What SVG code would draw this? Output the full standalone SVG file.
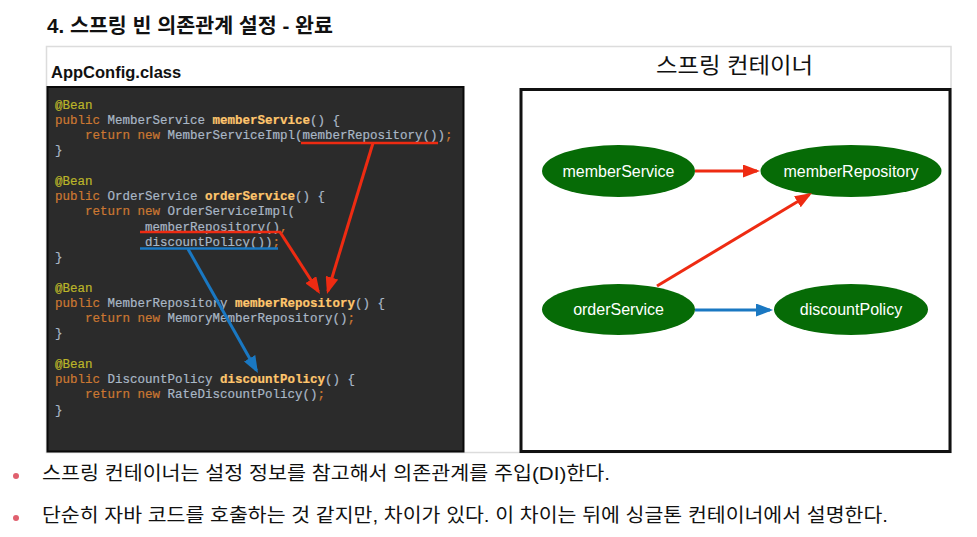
<svg xmlns="http://www.w3.org/2000/svg" width="977" height="537" viewBox="0 0 977 537">
<style>
.ko{font-family:"Liberation Sans","Noto Sans CJK KR",sans-serif;fill:#111}
.code{font-family:"Liberation Mono","DejaVu Sans Mono",monospace;font-size:12.5px;fill:#a9b7c6;stroke:#a9b7c6;stroke-width:0.2}
.an{fill:#bbb529;stroke:#bbb529}
.kw{fill:#cc7832;stroke:#cc7832}
.fn{fill:#ffc66d;stroke:#ffc66d;font-weight:bold}
.node{fill:#066b06}
.lbl{font-family:"Liberation Sans",Arial,sans-serif;font-size:16px;fill:#fff;text-anchor:middle}
.red{stroke:#ee2b12;stroke-width:3;fill:none}
.blue{stroke:#1a78c2;stroke-width:3;fill:none}
</style>
<defs>
<marker id="ar" markerUnits="userSpaceOnUse" markerWidth="17" markerHeight="13" refX="14" refY="6.5" orient="auto"><path d="M0,0 L17,6.5 L0,13 z" fill="#ee2b12"/></marker>
<marker id="ab" markerUnits="userSpaceOnUse" markerWidth="17" markerHeight="13" refX="14" refY="6.5" orient="auto"><path d="M0,0 L17,6.5 L0,13 z" fill="#1a78c2"/></marker>
</defs>
<rect width="977" height="537" fill="#fff"/>
<text class="ko" x="47" y="33" font-size="20.5" font-weight="bold" textLength="286" lengthAdjust="spacingAndGlyphs">4. 스프링 빈 의존관계 설정 - 완료</text>
<rect x="46.5" y="46.5" width="904.5" height="406" fill="none" stroke="#dcdcdc" stroke-width="1.5"/>
<text x="51" y="78" font-family="Liberation Sans,Arial,sans-serif" font-size="16.5" font-weight="bold" fill="#111">AppConfig.class</text>
<g id="code">
<rect x="47.5" y="87" width="416" height="364.5" fill="#2b2b2b" stroke="#0a0a0a" stroke-width="2"/>
<text class="code" xml:space="preserve"><tspan x="55" y="108.5" class="an">@Bean</tspan><tspan x="55" y="123.7"><tspan class="kw">public</tspan> MemberService <tspan class="fn">memberService</tspan>() {</tspan><tspan x="55" y="139"><tspan class="kw">    return new</tspan> MemberServiceImpl(memberRepository())<tspan class="kw">;</tspan></tspan><tspan x="55" y="154.2">}</tspan><tspan x="55" y="184.7" class="an">@Bean</tspan><tspan x="55" y="200"><tspan class="kw">public</tspan> OrderService <tspan class="fn">orderService</tspan>() {</tspan><tspan x="55" y="215.2"><tspan class="kw">    return new</tspan> OrderServiceImpl(</tspan><tspan x="55" y="230.5">            memberRepository()<tspan class="kw">,</tspan></tspan><tspan x="55" y="245.7">            discountPolicy())<tspan class="kw">;</tspan></tspan><tspan x="55" y="261">}</tspan><tspan x="55" y="291.5" class="an">@Bean</tspan><tspan x="55" y="306.7"><tspan class="kw">public</tspan> MemberRepository <tspan class="fn">memberRepository</tspan>() {</tspan><tspan x="55" y="322"><tspan class="kw">    return new</tspan> MemoryMemberRepository()<tspan class="kw">;</tspan></tspan><tspan x="55" y="337.2">}</tspan><tspan x="55" y="367.7" class="an">@Bean</tspan><tspan x="55" y="383"><tspan class="kw">public</tspan> DiscountPolicy <tspan class="fn">discountPolicy</tspan>() {</tspan><tspan x="55" y="398.2"><tspan class="kw">    return new</tspan> RateDiscountPolicy()<tspan class="kw">;</tspan></tspan><tspan x="55" y="413.5">}</tspan></text>
</g>
<g id="container">
<rect x="521" y="89.5" width="429" height="362" fill="#fff" stroke="#111" stroke-width="3"/>
<text class="ko" x="656" y="73" font-size="22" textLength="157" lengthAdjust="spacingAndGlyphs">스프링 컨테이너</text>
</g>
<g id="memberService"><ellipse class="node" cx="618.5" cy="171" rx="76.5" ry="26"/><text class="lbl" x="618.5" y="176.5">memberService</text></g>
<g id="memberRepository"><ellipse class="node" cx="851" cy="171" rx="90.5" ry="26"/><text class="lbl" x="851" y="176.5">memberRepository</text></g>
<g id="orderService"><ellipse class="node" cx="618.5" cy="309.5" rx="76.5" ry="25.5"/><text class="lbl" x="618.5" y="315">orderService</text></g>
<g id="discountPolicy"><ellipse class="node" cx="851" cy="309.5" rx="77" ry="25.5"/><text class="lbl" x="851" y="315">discountPolicy</text></g>
<g id="connectors">
<line x1="301" y1="143" x2="438" y2="143" stroke="#ee2b12" stroke-width="2.5"/>
<line x1="140" y1="232" x2="281" y2="232" stroke="#ee2b12" stroke-width="2.5"/>
<line x1="140" y1="248.5" x2="278" y2="248.5" stroke="#1a78c2" stroke-width="2.5"/>
<line class="red" x1="373" y1="143" x2="327.9" y2="291.1" marker-end="url(#ar)"/>
<line class="red" x1="280" y1="232" x2="318.4" y2="291.5" marker-end="url(#ar)"/>
<line class="blue" x1="188" y1="249" x2="256.5" y2="370.4" marker-end="url(#ab)"/>
<line class="red" x1="695" y1="171" x2="757" y2="171" marker-end="url(#ar)"/>
<line class="red" x1="657" y1="286" x2="809.4" y2="194.5" marker-end="url(#ar)"/>
<line class="blue" x1="695" y1="310" x2="770" y2="310" marker-end="url(#ab)"/>
</g>
<g id="notes">
<circle cx="16" cy="476" r="3" fill="#e0606e"/>
<circle cx="16" cy="518" r="3" fill="#e0606e"/>
<text class="ko" x="42" y="480" font-size="19" textLength="568" lengthAdjust="spacingAndGlyphs">스프링 컨테이너는 설정 정보를 참고해서 의존관계를 주입(DI)한다.</text>
<text class="ko" x="42" y="522" font-size="19" textLength="846" lengthAdjust="spacingAndGlyphs">단순히 자바 코드를 호출하는 것 같지만, 차이가 있다. 이 차이는 뒤에 싱글톤 컨테이너에서 설명한다.</text>
</g>
</svg>
